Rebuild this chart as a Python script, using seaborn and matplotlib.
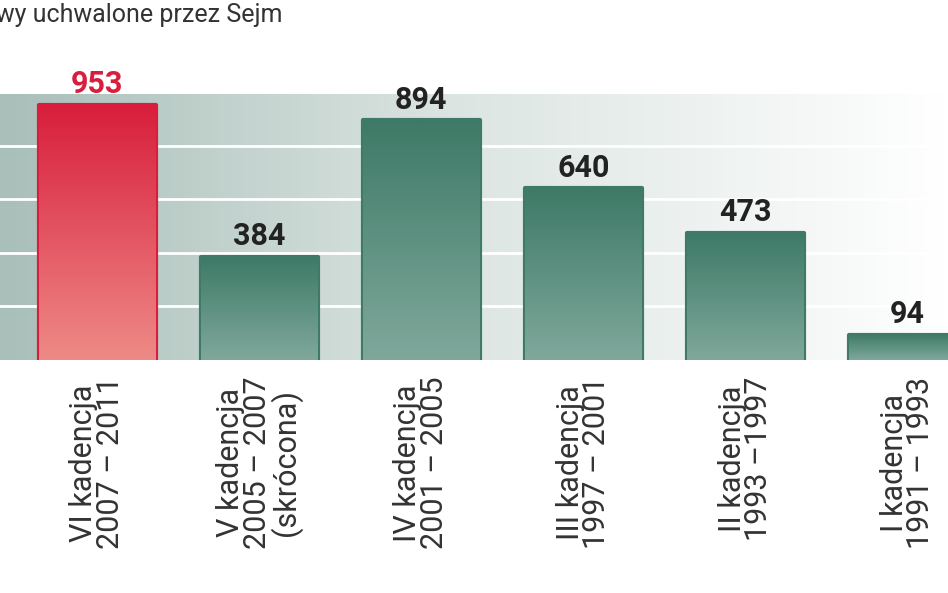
import numpy as np
import pandas as pd
import matplotlib
matplotlib.use("Agg")
import matplotlib.pyplot as plt
from matplotlib.colors import LinearSegmentedColormap
import seaborn as sns

# dane
kadencje = ["VI kadencja\n2007 – 2011", "V kadencja\n2005 – 2007\n(skrócona)",
            "IV kadencja\n2001 – 2005", "III kadencja\n1997 – 2001",
            "II kadencja\n1993 –1997", "I kadencja\n1991 – 1993"]
ustawy = [953, 384, 894, 640, 473, 94]
kolory = ["#d81e3c", "#3e7a67", "#3e7a67", "#3e7a67", "#3e7a67", "#3e7a67"]
siatka = [200, 400, 600, 800]

sns.set_style("white")
plt.rcParams['font.family'] = ['Roboto', 'DejaVu Sans']

fig = plt.figure(figsize=(9.48, 5.93), dpi=100)
ax = fig.add_axes([0, 0.393, 1, 0.506])

df = pd.DataFrame({"k": kadencje, "n": ustawy})
sns.barplot(data=df, x="k", y="n", hue="k", palette=kolory, legend=False,
            width=0.72, ax=ax, zorder=3)

# tlo z gradientem
bg = LinearSegmentedColormap.from_list("bg", ["#a9bfb9", "#dde6e3", "#ffffff"])
ax.imshow(np.linspace(0, 1, 256).reshape(1, -1), cmap=bg, aspect="auto",
          extent=(-0.6, 5.25, 0, 990), zorder=0)
for g in siatka:
    ax.axhline(g, color="white", lw=2, zorder=1)

# gradient w slupkach
for p, c in zip(ax.patches, kolory):
    x0, w, h = p.get_x(), p.get_width(), p.get_height()
    light = "#ee8a86" if c == "#d81e3c" else "#7fa89b"
    cm = LinearSegmentedColormap.from_list("b", [light, c])
    p.set_joinstyle("round")
    p.set_edgecolor(c)
    p.set_linewidth(3)
    im = ax.imshow(np.linspace(0, 1, 128).reshape(-1, 1), cmap=cm, aspect="auto",
                   origin="lower", extent=(x0, x0 + w, 0, h), zorder=4)
    im.set_clip_path(p)
    ax.text(x0 + w / 2, h + 22, str(int(round(h))),
            ha="center", va="bottom", fontsize=22, fontweight="bold",
            color="#d81e3c" if c == "#d81e3c" else "#222222", zorder=5)
ax.set_xlim(-0.6, 5.25)
ax.set_ylim(0, 1120)

ax.set_xlabel("")
ax.set_ylabel("")
ax.set_yticks([])
ax.set_xticks(range(len(kadencje)))
ax.set_xticklabels(kadencje, rotation=90, fontsize=22, color="#333333",
                   linespacing=0.9, va="top")
ax.tick_params(axis="x", length=0, pad=12)
for s in ax.spines.values():
    s.set_visible(False)

fig.text(-0.058, 0.995, "Ustawy uchwalone przez Sejm", ha="left", va="top",
         fontsize=18, color="#333333")

fig.savefig("out.png", dpi=100)
